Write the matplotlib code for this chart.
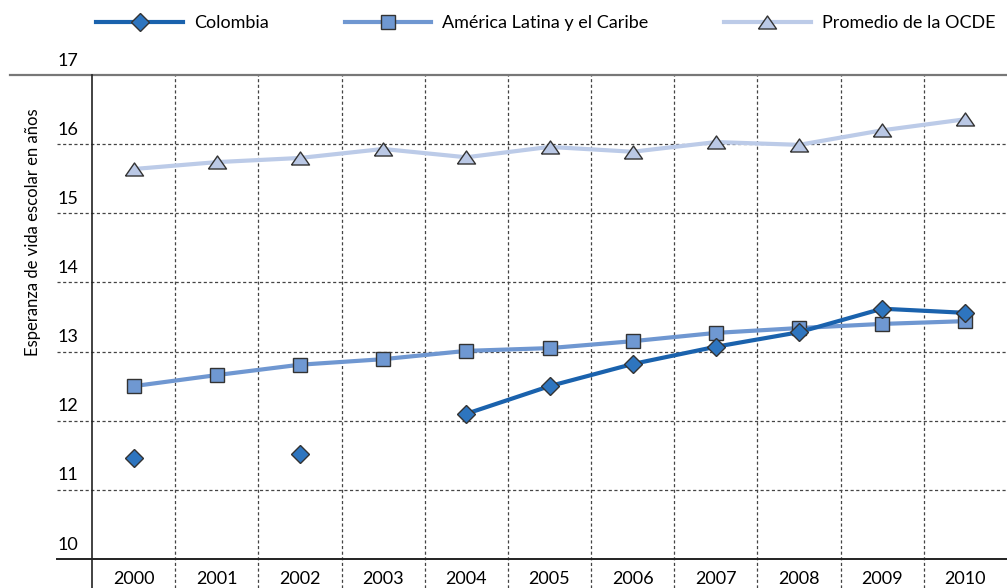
import matplotlib.pyplot as plt
import numpy as np
from matplotlib.transforms import ScaledTranslation

plt.rcParams['font.family'] = ['Lato', 'DejaVu Sans']

years = ['2000', '2001', '2002', '2003', '2004', '2005', '2006', '2007', '2008', '2009', '2010']
colombia = [11.46, np.nan, 11.52, np.nan, 12.10, 12.50, 12.82, 13.07, 13.28, 13.62, 13.56]
alc = [12.50, 12.66, 12.81, 12.89, 13.01, 13.05, 13.15, 13.27, 13.34, 13.40, 13.44]
ocde = [15.64, 15.74, 15.80, 15.93, 15.81, 15.96, 15.89, 16.03, 15.99, 16.20, 16.36]
yticks = [10, 11, 12, 13, 14, 15, 16, 17]

fig = plt.figure(figsize=(10.07, 5.88), dpi=100)
ax = fig.add_axes([92/1007, 1-559/588, 1-92/1007, (559-75)/588])

x = np.arange(len(years))
tri = [(-1, -0.72), (1, -0.72), (0, 0.72), (-1, -0.72)]

# grid
for v in yticks[1:-1]:
    ax.axhline(v, xmin=-35/916, xmax=1, color='#444444', lw=0.9,
               ls=(0, (2.5, 2)), clip_on=False, zorder=1)
for v in np.arange(0.5, 10.5, 1):
    ax.axvline(v, ymin=-29/484, ymax=1, color='#444444', lw=0.9,
               ls=(0, (2.5, 2)), clip_on=False, zorder=1)

ax.plot(x, ocde, color='#bccbe8', lw=3, marker=tri, ms=13,
        mfc='#bac8e5', mec='#333333', mew=1, zorder=3, label='Promedio de la OCDE')
ax.plot(x, alc, color='#6f97d1', lw=3, marker='s', ms=10,
        mfc='#6f98d2', mec='#333333', mew=1, zorder=4, label='América Latina y el Caribe')
ax.plot(x, colombia, color='#1a62ad', lw=3, marker='D', ms=9.5,
        mfc='#2e75bf', mec='#333333', mew=1, zorder=5, label='Colombia')

ax.set_xlim(-0.5, 10.5)
ax.set_ylim(10, 17)
ax.set_xticks(x)
ax.set_xticklabels(years, fontsize=13)
ax.set_yticks(yticks)
ax.set_yticklabels([str(v) for v in yticks], fontsize=13)
ax.tick_params(length=0)
ax.tick_params(axis='x', pad=9)
ax.tick_params(axis='y', pad=10)
off = ScaledTranslation(0, 16/100, fig.dpi_scale_trans)
for lab in ax.get_yticklabels():
    lab.set_transform(lab.get_transform() + off)

for s in ['top', 'right', 'bottom', 'left']:
    ax.spines[s].set_visible(False)

# frame lines
ax.plot([-82/916, 1], [1, 1], transform=ax.transAxes, color='#777777', lw=1.6, clip_on=False)
ax.plot([-35/916, 1], [0, 0], transform=ax.transAxes, color='#222222', lw=1.4, clip_on=False)
ax.plot([0, 0], [-29/484, 1], transform=ax.transAxes, color='#222222', lw=1.2, clip_on=False)

fig.text(33/1007, 1-232/588, 'Esperanza de vida escolar en años', rotation=90,
         ha='center', va='center', fontsize=12)

h, l = ax.get_legend_handles_labels()
fig.legend(h[::-1], l[::-1], loc='center', bbox_to_anchor=(0.542, 1-23/588), ncol=3,
           frameon=False, fontsize=13, handlelength=4.8, columnspacing=4.2,
           handletextpad=0.6)

fig.savefig('out.png', dpi=100)
